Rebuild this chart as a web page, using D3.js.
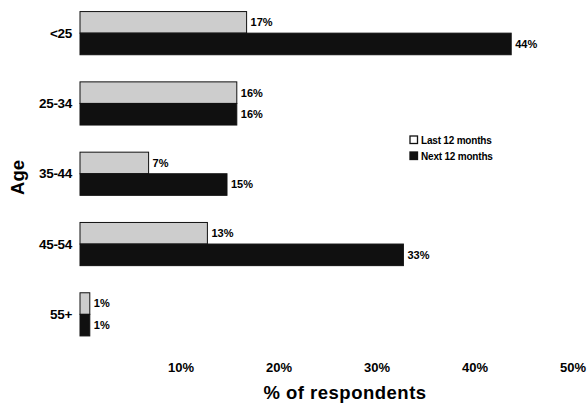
<!DOCTYPE html>
<html>
<head>
<meta charset="utf-8">
<script src="https://cdn.jsdelivr.net/npm/d3@7"></script>
<style>
  body { margin: 0; background: #fff; }
  svg { display: block; font-family: "Liberation Sans", Arial, sans-serif; font-weight: bold; }
</style>
</head>
<body>
<div id="visContainer"></div>
<script>
const ages = ["<25", "25-34", "35-44", "45-54", "55+"];
const seriesNames = ["Last 12 months", "Next 12 months"];
const last12 = [17, 16, 7, 13, 1];
const next12 = [44, 16, 15, 33, 1];
const xTicks = [10, 20, 30, 40, 50];

function renderChart() {
    const width = 588, height = 403;

    const svg = d3.select("#visContainer").append("svg")
        .attr("width", width)
        .attr("height", height);

    const x = d3.scaleLinear().domain([0, 50]).range([80, 570]);

    const y = d3.scaleBand()
        .domain(ages)
        .range([-2, 349.5])
        .paddingInner(0.386)
        .paddingOuter(0.193);

    const ySub = d3.scaleBand()
        .domain(seriesNames)
        .range([0, y.bandwidth()]);

    const fills = { "Last 12 months": "#cdcdcd", "Next 12 months": "#101010" };

    const rows = ages.map((a, i) => ({
        age: a,
        values: [
            { name: seriesNames[0], value: last12[i] },
            { name: seriesNames[1], value: next12[i] }
        ]
    }));

    const group = svg.append("g")
        .selectAll("g")
        .data(rows)
        .join("g")
        .attr("transform", d => `translate(0,${y(d.age)})`);

    group.selectAll("rect")
        .data(d => d.values)
        .join("rect")
        .attr("x", x(0))
        .attr("y", d => ySub(d.name))
        .attr("width", d => x(d.value) - x(0))
        .attr("height", ySub.bandwidth())
        .attr("fill", d => fills[d.name])
        .attr("stroke", "#111")
        .attr("stroke-width", 1);

    group.selectAll("text.val")
        .data(d => d.values)
        .join("text")
        .attr("class", "val")
        .attr("x", d => x(d.value) + 4)
        .attr("y", d => ySub(d.name) + ySub.bandwidth() / 2)
        .attr("dy", "0.35em")
        .style("font-size", "11px")
        .text(d => d.value + "%");

    // category labels
    svg.append("g")
        .selectAll("text")
        .data(ages)
        .join("text")
        .attr("x", 72)
        .attr("y", d => y(d) + y.bandwidth() / 2)
        .attr("dy", "0.35em")
        .attr("text-anchor", "end")
        .style("font-size", "13.5px")
        .style("letter-spacing", "-0.3px")
        .text(d => d);

    // x axis (labels only)
    const xAxis = svg.append("g")
        .attr("transform", "translate(2.5,360)")
        .call(d3.axisBottom(x).tickValues(xTicks).tickSize(0).tickFormat(d => d + "%"));
    xAxis.select(".domain").remove();
    xAxis.selectAll("text")
        .attr("fill", "#000")
        .style("font-family", "'Liberation Sans', Arial, sans-serif")
        .style("font-weight", "bold")
        .style("font-size", "13px");

    svg.append("text")
        .attr("x", 345)
        .attr("y", 399)
        .attr("text-anchor", "middle")
        .style("font-size", "18.5px")
        .style("letter-spacing", "0.5px")
        .text("% of respondents");

    svg.append("text")
        .attr("transform", "translate(24,177.5) rotate(-90)")
        .attr("text-anchor", "middle")
        .style("font-size", "18.5px")
        .text("Age");

    // legend
    const legend = svg.append("g")
        .attr("transform", "translate(410,136)")
        .selectAll("g")
        .data(seriesNames)
        .join("g")
        .attr("transform", (d, i) => `translate(0,${i * 16})`);

    legend.append("rect")
        .attr("width", 7.5)
        .attr("height", 7.5)
        .attr("fill", (d, i) => i === 0 ? "#fff" : "#101010")
        .attr("stroke", "#111")
        .attr("stroke-width", 1.3);

    legend.append("text")
        .attr("x", 11)
        .attr("y", 4)
        .attr("dy", "0.35em")
        .style("font-size", "10px")
        .style("letter-spacing", "-0.2px")
        .text(d => d);
}

renderChart();
</script>
</body>
</html>
